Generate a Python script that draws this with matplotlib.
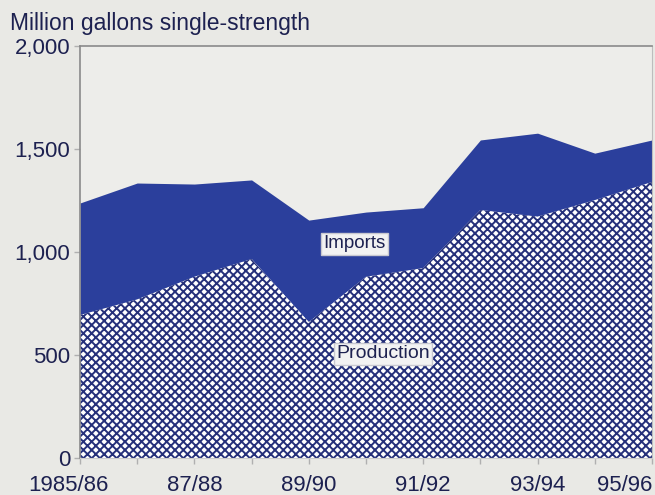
import matplotlib.pyplot as plt
from matplotlib.transforms import ScaledTranslation

plt.rcParams['font.family'] = ['Liberation Sans', 'DejaVu Sans']
plt.rcParams['hatch.linewidth'] = 1.4

# marketing years, Florida orange juice supply
years = ["1985/86", "86/87", "87/88", "88/89", "89/90", "90/91",
         "91/92", "92/93", "93/94", "94/95", "95/96"]
production = [694, 770, 880, 966, 660, 880, 922, 1204, 1172, 1252, 1340]
total = [1238, 1335, 1330, 1350, 1155, 1194, 1215, 1544, 1577, 1480, 1544]
tick_years = ["1985/86", "87/88", "89/90", "91/92", "93/94", "95/96"]

text_col = "#1d2150"
bg = "#e9e9e5"

fig = plt.figure(figsize=(6.55, 4.95), dpi=100, facecolor=bg)
ax = fig.add_axes([0.1221, 0.0747, 0.8733, 0.8323])
ax.set_facecolor("#ededea")

x = list(range(len(years)))
ax.fill_between(x, production, total, color="#2b3f9c", lw=0)
ax.fill_between(x, 0, production, facecolor="white", edgecolor="#25307a",
                hatch="xxxx", lw=0)

ax.text(4.8, 1040, "Imports", fontsize=13.5, color=text_col, ha="center", va="center",
        bbox=dict(boxstyle="square,pad=0.12", fc="#f2f2f2", ec="#c8c8d0", lw=1))
ax.text(5.3, 505, "Production", fontsize=14, color=text_col, ha="center", va="center",
        bbox=dict(boxstyle="square,pad=0.12", fc="#f2f2f2", ec="#c8c8d0", lw=1))

ax.set_xlim(0, 10)
ax.set_ylim(0, 2000)
ax.set_yticks([0, 500, 1000, 1500, 2000])
ax.set_yticklabels(["0", "500", "1,000", "1,500", "2,000"])
ax.set_xticks(x)
ax.set_xticklabels([y if y in tick_years else "" for y in years])
ax.tick_params(axis="both", labelsize=16, labelcolor=text_col, color="#b0b0b0",
               length=4, width=1)
ax.tick_params(axis="y", pad=3)
ax.tick_params(axis="x", pad=8)
for lbl in ax.get_xticklabels():
    if lbl.get_text() == "1985/86":
        lbl.set_transform(lbl.get_transform() +
                          ScaledTranslation(-0.12, 0, fig.dpi_scale_trans))
    if lbl.get_text() == "95/96":
        lbl.set_horizontalalignment("right")

for s in ["left", "top"]:
    ax.spines[s].set_color("#8a8a8a")
    ax.spines[s].set_linewidth(1.2)
ax.spines["right"].set_color("#bdbdbd")
ax.spines["bottom"].set_color("#cccccc")

fig.text(0.015, 0.953, "Million gallons single-strength", fontsize=16.5,
         color=text_col, ha="left", va="center")

fig.savefig("out.png", dpi=100, facecolor=bg)
